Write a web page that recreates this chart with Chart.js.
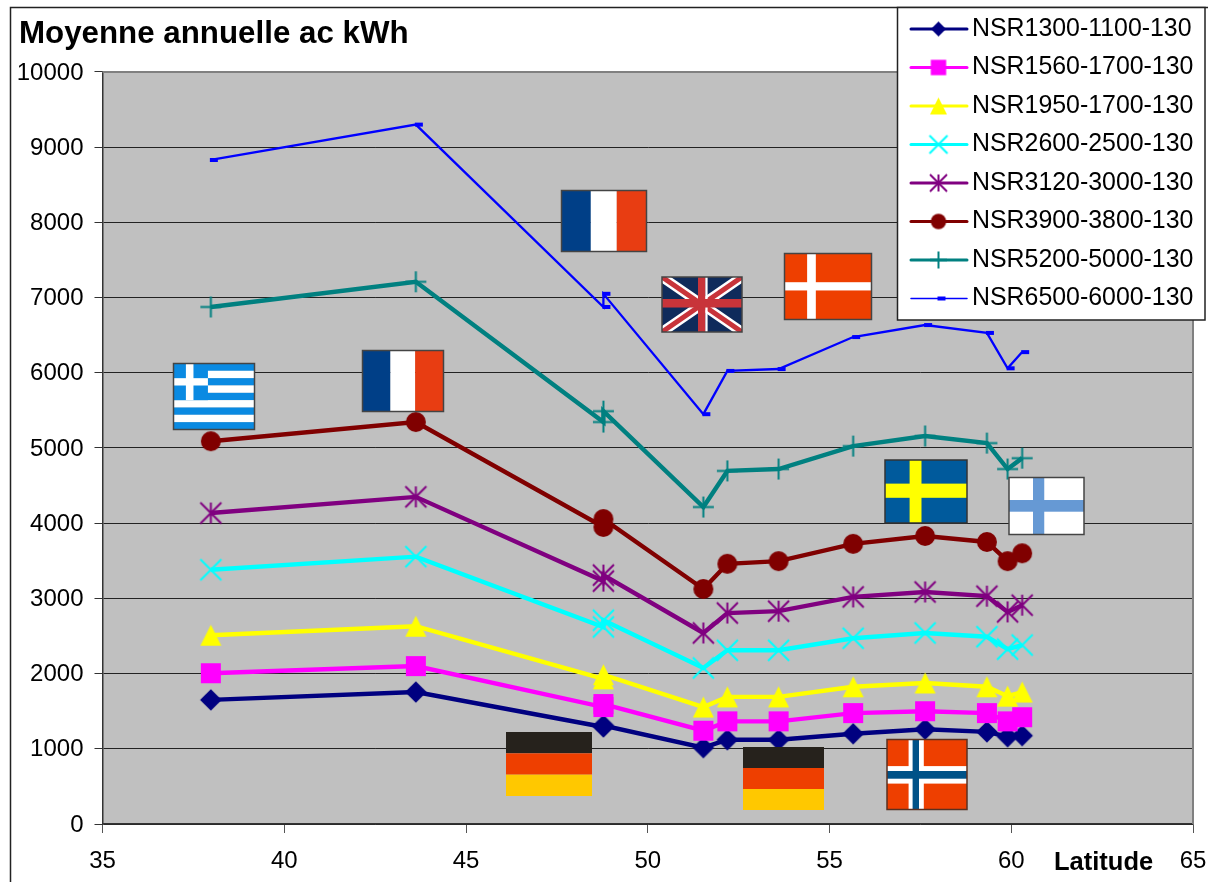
<!DOCTYPE html>
<html>
<head>
<meta charset="utf-8">
<title>Moyenne annuelle ac kWh</title>
<style>
  html, body { margin: 0; padding: 0; background: #fff; }
  canvas { display: block; }
</style>
<script src="https://cdn.jsdelivr.net/npm/chart.js@4/dist/chart.umd.min.js"></script>
</head>
<body>
<canvas id="latitudeChart" width="1208" height="882"></canvas>
<script>
const FONT = '"Liberation Sans", Arial, sans-serif';

const latitudes = [37.98, 43.62, 48.78, 48.78, 51.53, 52.19, 53.6, 55.65, 57.63, 59.33, 59.9, 60.3];

const nsr1300 = [1650, 1755, 1290, 1310, 1015, 1120, 1120, 1200, 1260, 1225, 1160, 1175];
const nsr1560 = [2005, 2100, 1555, 1595, 1240, 1365, 1365, 1475, 1500, 1475, 1365, 1420];
const nsr1950 = [2510, 2630, 1930, 1985, 1555, 1690, 1690, 1825, 1875, 1825, 1700, 1755];
const nsr2600 = [3380, 3555, 2620, 2710, 2075, 2310, 2310, 2470, 2540, 2490, 2325, 2380];
const nsr3120 = [4135, 4350, 3230, 3310, 2540, 2805, 2830, 3020, 3085, 3030, 2820, 2910];
const nsr3900 = [5090, 5345, 3950, 4055, 3125, 3460, 3495, 3725, 3830, 3750, 3495, 3600];
const nsr5200 = [6875, 7210, 5345, 5490, 4215, 4695, 4720, 5025, 5160, 5065, 4720, 4865];
const nsr6500 = [8830, 9300, 6875, 7050, 5450, 6025, 6050, 6475, 6635, 6530, 6060, 6275];

const seriesNames = ['NSR1300-1100-130', 'NSR1560-1700-130', 'NSR1950-1700-130', 'NSR2600-2500-130',
  'NSR3120-3000-130', 'NSR3900-3800-130', 'NSR5200-5000-130', 'NSR6500-6000-130'];
const seriesValues = [nsr1300, nsr1560, nsr1950, nsr2600, nsr3120, nsr3900, nsr5200, nsr6500];
const seriesColors = ['#000080', '#ff00ff', '#ffff00', '#00ffff', '#800080', '#800000', '#008080', '#0000ff'];
const markerKinds = ['diamond', 'square', 'triangle', 'x', 'star', 'circle', 'plus', 'dash'];
const lineWidths = [4.4, 4.4, 4.4, 4.4, 4.4, 4.4, 4.4, 2.3];
const markerSizes = [10.8, 10, 10.5, 10.5, 10.5, 10, 10.5, 8];
const legendMarkerSizes = [7.5, 7.7, 8.5, 9, 8.5, 7.7, 8.5, 8];

// marker drawn on its own canvas, used as pointStyle and in the legend box
function makeMarker(kind, color, s) {
  const c = document.createElement('canvas');
  c.width = c.height = Math.ceil(2 * s + 4);
  const g = c.getContext('2d');
  const m = c.width / 2;
  g.fillStyle = color;
  g.strokeStyle = color;
  g.lineWidth = 2;
  g.translate(m, m);
  g.beginPath();
  if (kind === 'diamond') {
    g.moveTo(0, -s); g.lineTo(s, 0); g.lineTo(0, s); g.lineTo(-s, 0); g.closePath(); g.fill();
  } else if (kind === 'square') {
    g.fillRect(-s, -s, 2 * s, 2 * s);
  } else if (kind === 'triangle') {
    g.moveTo(0, -s); g.lineTo(s, s); g.lineTo(-s, s); g.closePath(); g.fill();
  } else if (kind === 'circle') {
    g.arc(0, 0, s, 0, Math.PI * 2); g.fill();
  } else if (kind === 'dash') {
    // the dash sits to the right of the point
    g.fillRect(-1, -2, s, 4);
  } else {
    if (kind === 'x' || kind === 'star') {
      g.moveTo(-s, -s); g.lineTo(s, s); g.moveTo(s, -s); g.lineTo(-s, s);
    }
    if (kind === 'star' || kind === 'plus') {
      g.moveTo(0, -s); g.lineTo(0, s);
    }
    if (kind === 'plus') {
      g.moveTo(-s, 0); g.lineTo(s, 0);
    }
    g.stroke();
  }
  return c;
}

// flags sit on top of the lines
function stripesV(g, b, cols, widths) {
  let x = b.x;
  cols.forEach((col, i) => {
    g.fillStyle = col;
    g.fillRect(x, b.y, b.w * widths[i], b.h);
    x += b.w * widths[i];
  });
}
function stripesH(g, b, cols) {
  cols.forEach((col, i) => {
    g.fillStyle = col;
    g.fillRect(b.x, b.y + b.h * i / cols.length, b.w, b.h / cols.length);
  });
}
function crossBars(g, b, col, x0, x1, y0, y1) {
  g.fillStyle = col;
  g.fillRect(b.x + b.w * x0, b.y, b.w * (x1 - x0), b.h);
  g.fillRect(b.x, b.y + b.h * y0, b.w, b.h * (y1 - y0));
}

const painters = {
  france(g, b) {
    stripesV(g, b, ['#003f87', '#ffffff', '#e83d12'], [0.345, 0.305, 0.35]);
  },
  germany(g, b) {
    stripesH(g, b, ['#26221c', '#ee3f00', '#ffc800']);
  },
  denmark(g, b) {
    g.fillStyle = '#ee3f00';
    g.fillRect(b.x, b.y, b.w, b.h);
    crossBars(g, b, '#ffffff', 0.26, 0.36, 0.435, 0.56);
  },
  sweden(g, b) {
    g.fillStyle = '#005a9c';
    g.fillRect(b.x, b.y, b.w, b.h);
    crossBars(g, b, '#ffff00', 0.3, 0.445, 0.375, 0.6);
  },
  finland(g, b) {
    g.fillStyle = '#ffffff';
    g.fillRect(b.x, b.y, b.w, b.h);
    crossBars(g, b, '#6699d4', 0.32, 0.47, 0.395, 0.6);
  },
  norway(g, b) {
    g.fillStyle = '#ee3f00';
    g.fillRect(b.x, b.y, b.w, b.h);
    crossBars(g, b, '#ffffff', 0.27, 0.46, 0.38, 0.63);
    crossBars(g, b, '#005288', 0.32, 0.4, 0.45, 0.56);
  },
  greece(g, b) {
    const blue = '#0a8ae2';
    stripesH(g, b, [blue, '#fff', blue, '#fff', blue, '#fff', blue, '#fff', blue]);
    const canton = { x: b.x, y: b.y, w: b.w * 0.425, h: b.h * 5 / 9 };
    g.fillStyle = blue;
    g.fillRect(canton.x, canton.y, canton.w, canton.h);
    crossBars(g, canton, '#ffffff', 0.36, 0.58, 0.4, 0.6);
  },
  uk(g, b) {
    g.fillStyle = '#0f2b5b';
    g.fillRect(b.x, b.y, b.w, b.h);
    g.save();
    g.beginPath();
    g.rect(b.x, b.y, b.w, b.h);
    g.clip();
    g.beginPath();
    g.moveTo(b.x, b.y); g.lineTo(b.x + b.w, b.y + b.h);
    g.moveTo(b.x + b.w, b.y); g.lineTo(b.x, b.y + b.h);
    g.strokeStyle = '#ffffff';
    g.lineWidth = 10;
    g.stroke();
    g.strokeStyle = '#c8343a';
    g.lineWidth = 5;
    g.stroke();
    g.restore();
    g.fillStyle = '#ffffff';
    g.fillRect(b.x + b.w * 0.54, b.y, b.w * 0.03, b.h);
    crossBars(g, b, '#c8343a', 0.45, 0.54, 0.4, 0.555);
  }
};

const flags = [
  { kind: 'greece', x: 173.5, y: 363.5, w: 81, h: 66, border: '#444' },
  { kind: 'france', x: 362.5, y: 350.5, w: 81, h: 61, border: '#444' },
  { kind: 'france', x: 561.5, y: 190.5, w: 85, h: 61, border: '#444' },
  { kind: 'uk', x: 662, y: 277, w: 80, h: 55, border: '#444' },
  { kind: 'denmark', x: 784.5, y: 253.5, w: 87, h: 66, border: '#444' },
  { kind: 'sweden', x: 885, y: 460, w: 82, h: 63, border: '#333' },
  { kind: 'finland', x: 1009, y: 477.5, w: 75, h: 57, border: '#444' },
  { kind: 'germany', x: 506, y: 732, w: 86, h: 64 },
  { kind: 'germany', x: 743, y: 747, w: 81, h: 63 },
  { kind: 'norway', x: 887, y: 739.5, w: 80, h: 70, border: '#5a3020' }
];

const overlays = {
  id: 'overlays',
  afterLayout(chart) {
    // title starts right of the sheet frame, the tick labels run further left
    chart.titleBlock.left = 19;
  },
  beforeDraw(chart) {
    const g = chart.ctx;
    const a = chart.chartArea;
    g.save();
    g.fillStyle = '#c0c0c0';
    g.fillRect(a.left, a.top, a.width, a.height);
    // outer frame of the sheet
    g.strokeStyle = '#222';
    g.lineWidth = 1.5;
    g.beginPath();
    g.moveTo(10.5, 882);
    g.lineTo(10.5, 7.5);
    g.lineTo(1208, 7.5);
    g.stroke();
    g.restore();
  },
  afterDraw(chart) {
    const g = chart.ctx;
    const a = chart.chartArea;
    g.save();
    // gray plot border, top and right
    g.strokeStyle = '#808080';
    g.lineWidth = 2;
    g.beginPath();
    g.moveTo(a.left, a.top);
    g.lineTo(a.right, a.top);
    g.lineTo(a.right, a.bottom);
    g.stroke();

    flags.forEach(f => {
      painters[f.kind](g, f);
      if (f.border) {
        g.strokeStyle = f.border;
        g.lineWidth = 1.5;
        g.strokeRect(f.x, f.y, f.w, f.h);
      }
    });

    // axis name sits in the tick row
    g.fillStyle = '#000';
    g.font = 'bold 25.5px ' + FONT;
    g.textAlign = 'left';
    g.textBaseline = 'alphabetic';
    g.fillText('Latitude', 1054, 869.5);

    // legend box
    g.fillStyle = '#fff';
    g.fillRect(897.5, 7.5, 307.5, 312.5);
    g.strokeStyle = '#222';
    g.lineWidth = 1.5;
    g.strokeRect(897.5, 7.5, 307.5, 312.5);
    g.font = '24.9px ' + FONT;
    g.textBaseline = 'middle';
    seriesNames.forEach((name, i) => {
      const y = 29 + i * 38.5;
      g.strokeStyle = seriesColors[i];
      g.lineWidth = i === 7 ? 1.5 : 3;
      g.lineCap = 'round';
      g.beginPath();
      g.moveTo(911, y);
      g.lineTo(967, y);
      g.stroke();
      const m = makeMarker(markerKinds[i], seriesColors[i], legendMarkerSizes[i]);
      g.drawImage(m, 938.5 - m.width / 2, y - m.height / 2);
      g.fillStyle = '#000';
      g.fillText(name, 972, y);
    });
    g.restore();
  }
};

new Chart(document.getElementById('latitudeChart'), {
  type: 'line',
  data: {
    datasets: seriesNames.map((name, i) => ({
      label: name,
      data: seriesValues[i].map((v, k) => ({ x: latitudes[k], y: v })),
      borderColor: seriesColors[i],
      backgroundColor: seriesColors[i],
      borderWidth: lineWidths[i],
      tension: 0,
      fill: false,
      pointStyle: makeMarker(markerKinds[i], seriesColors[i], markerSizes[i]),
      pointRadius: 5,
      order: -i
    }))
  },
  options: {
    responsive: false,
    animation: false,
    devicePixelRatio: 1,
    layout: { padding: 0 },
    plugins: {
      legend: { display: false },
      tooltip: { enabled: false },
      title: {
        display: true,
        text: 'Moyenne annuelle ac kWh',
        align: 'start',
        color: '#000',
        font: { family: FONT, size: 31.3, weight: 'bold', lineHeight: 1.2 },
        padding: { top: 15.5, bottom: 18.9 }
      }
    },
    scales: {
      x: {
        type: 'linear',
        min: 35,
        max: 65,
        ticks: {
          stepSize: 5,
          autoSkip: false,
          maxRotation: 0,
          color: '#000',
          padding: 14,
          font: { family: FONT, size: 24 }
        },
        grid: { drawOnChartArea: false, drawTicks: true, tickLength: 9, tickColor: '#555' },
        border: { color: '#333', width: 1.5 },
        afterFit(scale) {
          scale.height = 58;
          // leave only 15px right of the plot for the last label
          scale.paddingRight = 15;
        }
      },
      y: {
        min: 0,
        max: 10000,
        ticks: {
          stepSize: 1000,
          autoSkip: false,
          color: '#000',
          padding: 11,
          labelOffset: 1,
          font: { family: FONT, size: 24 },
          callback: v => String(v)
        },
        grid: { color: '#222', lineWidth: 1, tickLength: 8, tickColor: '#333' },
        border: { color: '#333', width: 1.5 },
        afterFit(scale) { scale.width = 102.5; }
      }
    }
  },
  plugins: [overlays]
});
</script>
</body>
</html>
